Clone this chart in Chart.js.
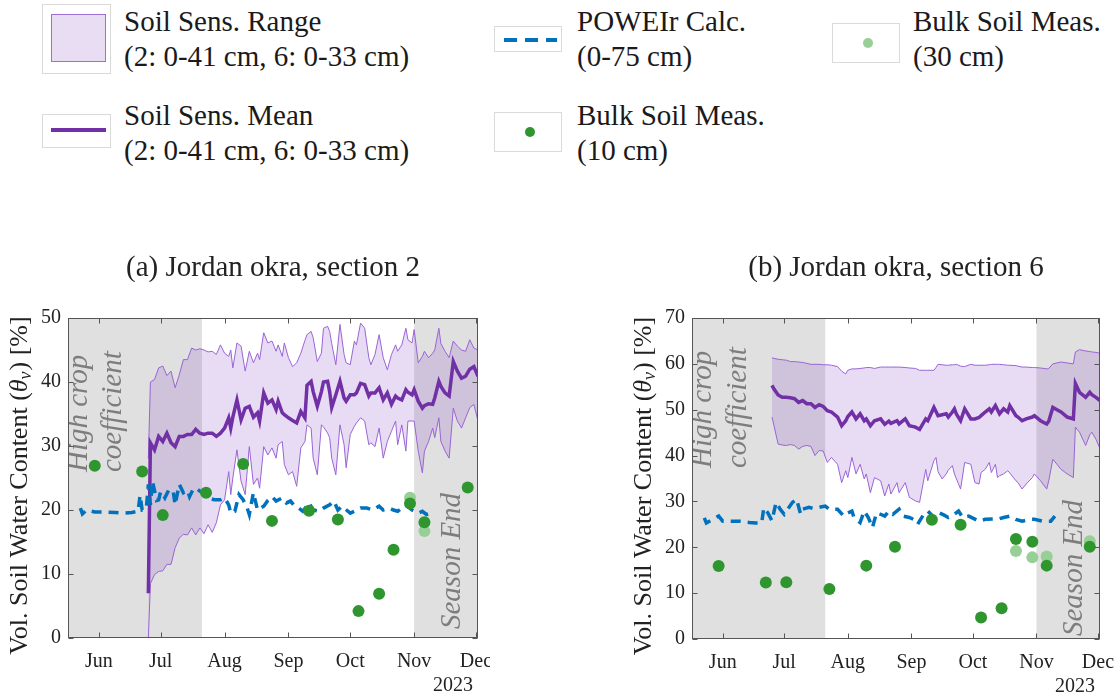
<!DOCTYPE html>
<html>
<head>
<meta charset="utf-8">
<script src="https://cdn.jsdelivr.net/npm/chart.js@4.4.1/dist/chart.umd.min.js"></script>
<style>
  html, body { margin: 0; padding: 0; background: #fff; }
  body { width: 1119px; height: 698px; position: relative; overflow: hidden;
         font-family: 'Liberation Serif', 'DejaVu Serif', serif; color: #1a1a1a; }
  .abs { position: absolute; }
  .lg-box { position: absolute; box-sizing: border-box; border: 1px solid #dadada; background: #fff; }
  .lg-text { position: absolute; font-size: 29px; line-height: 35px; white-space: nowrap; }
  #wrapA { left: 0; top: 240px; width: 490px; height: 458px; }
  #wrapB { left: 624px; top: 240px; width: 495px; height: 458px; }
</style>
</head>
<body>

<!-- legend -->
<div class="lg-box" style="left:42px; top:4px; width:69px; height:70px;"></div>
<div class="abs" style="left:51px; top:14px; width:55px; height:48px; box-sizing:border-box; background:#e9ddf4; border:1px solid #a06fd6;"></div>
<div class="lg-text" style="left:124px; top:4px;">Soil Sens. Range<br>(2: 0-41 cm, 6: 0-33 cm)</div>

<div class="lg-box" style="left:42px; top:114px; width:69px; height:34px;"></div>
<div class="abs" style="left:51px; top:128px; width:55px; height:4px; background:#7130a6;"></div>
<div class="lg-text" style="left:124px; top:98px;">Soil Sens. Mean<br>(2: 0-41 cm, 6: 0-33 cm)</div>

<div class="lg-box" style="left:494px; top:26px; width:68px; height:26px;"></div>
<div class="abs" style="left:504px; top:38px; width:13px; height:4px; background:#0072bd;"></div>
<div class="abs" style="left:525px; top:38px; width:13px; height:4px; background:#0072bd;"></div>
<div class="abs" style="left:546px; top:38px; width:11px; height:4px; background:#0072bd;"></div>
<div class="lg-text" style="left:577px; top:4px;">POWEIr Calc.<br>(0-75 cm)</div>

<div class="lg-box" style="left:494px; top:112px; width:68px; height:40px;"></div>
<div class="abs" style="left:525px; top:127px; width:10px; height:10px; border-radius:50%; background:#2f962f;"></div>
<div class="lg-text" style="left:577px; top:98px;">Bulk Soil Meas.<br>(10 cm)</div>

<div class="lg-box" style="left:832px; top:23px; width:68px; height:40px;"></div>
<div class="abs" style="left:863px; top:38px; width:10px; height:10px; border-radius:50%; background:#97cf97;"></div>
<div class="lg-text" style="left:913px; top:4px;">Bulk Soil Meas.<br>(30 cm)</div>

<div id="wrapA" class="abs"><canvas id="chartA" width="490" height="458"></canvas></div>
<div id="wrapB" class="abs"><canvas id="chartB" width="495" height="458"></canvas></div>

<script>
// ---- data (day of year 2023) ----
const monthTicks = [152, 182, 213, 244, 274, 305, 335];
const monthLabels = ['Jun', 'Jul', 'Aug', 'Sep', 'Oct', 'Nov', 'Dec'];
const yearLabel = '2023';
const shadeSpans = [[137, 202], [305, 336]];
const yTicksA = [0, 10, 20, 30, 40, 50];
const yTicksB = [0, 10, 20, 30, 40, 50, 60, 70];

// section 2 soil sensors
const sensDaysA = [176, 177, 179, 181, 183, 185, 187, 189, 191, 193, 195, 197, 199, 201, 203, 205, 207, 209, 211, 213,
  215, 216, 217, 219, 221, 223, 225, 227, 229, 230, 232, 234, 236, 238, 239, 241, 242, 244, 246, 248,
  250, 252, 253, 255, 256, 258, 260, 261, 263, 264, 265, 267, 269, 271, 272, 274, 276, 277, 279, 281,
  283, 284, 286, 288, 290, 292, 294, 296, 297, 299, 301, 302, 304, 305, 307, 309, 310, 312, 314, 315,
  317, 318, 320, 322, 324, 326, 328, 330, 332, 334, 336];
const sensUpperA = [28, 40, 40.4, 42.2, 42.5, 41.0, 41.7, 39.1, 41.1, 43.5, 43.5, 45.3, 45.0, 45.2, 45.0, 44.7, 44.8, 44.3, 45.8, 44.5,
  44.0, 45.0, 42.2, 46.1, 45.6, 41.7, 44.8, 43.0, 44.5, 43.5, 47.7, 46.1, 46.4, 44.8, 45.8, 44.0, 46.1, 43.8, 42.4, 43.0,
  44.5, 46.5, 47.4, 47.9, 46.9, 43.2, 44.5, 48.4, 48.7, 47.9, 46.0, 42.7, 49.0, 44.3, 43.0, 42.7, 46.4, 45.8, 49.2, 48.4,
  43.8, 42.7, 44.3, 47.4, 43.8, 41.9, 44.3, 45.8, 44.8, 45.8, 48.4, 46.6, 46.1, 48.2, 43.0, 44.0, 44.8, 43.8, 44.5, 45.0,
  48.4, 46.0, 44.8, 43.8, 46.4, 45.6, 45.0, 44.8, 46.6, 45.3, 45.0];
const sensMeanA = [7, 30.5, 29.4, 31.5, 30.7, 32.0, 30.5, 29.9, 31.5, 31.5, 31.8, 31.8, 32.6, 32.0, 31.8, 32.0, 32.0, 31.5, 32.0, 32.8,
  34.4, 32.8, 34.5, 37.2, 34.1, 35.9, 36.2, 34.5, 35.2, 33.9, 38.3, 36.7, 37.2, 35.7, 37.0, 35.2, 34.9, 34.4, 34.0, 33.6,
  35.4, 34.4, 39.5, 40.1, 38.5, 36.2, 38.5, 40.0, 40.1, 38.5, 36.0, 38.0, 40.1, 37.5, 37.0, 38.0, 38.0, 38.3, 39.8, 39.6,
  37.8, 38.3, 38.3, 39.1, 37.2, 38.3, 36.5, 37.8, 37.5, 37.2, 38.8, 38.4, 38.0, 38.8, 37.0, 35.9, 36.3, 36.6, 36.5, 37.5,
  40.1, 39.3, 38.3, 37.8, 43.2, 41.7, 40.6, 40.9, 42.0, 42.4, 40.9];
const sensLowerA = [0, 8.5, 9.9, 10.4, 10.5, 11.5, 11.5, 14.1, 15.6, 16.2, 16.1, 17.2, 16.1, 17.2, 16.3, 17.7, 16.5, 18.0, 20.8, 21.6,
  26.0, 22.4, 25.0, 29.4, 24.5, 22.4, 29.9, 24.0, 25.0, 23.4, 29.9, 28.6, 29.7, 28.1, 30.2, 30.7, 27.1, 25.5, 26.0, 23.7,
  29.7, 30.7, 33.3, 32.8, 28.1, 25.5, 33.3, 33.0, 32.0, 31.3, 28.1, 25.5, 33.3, 30.2, 26.6, 31.8, 33.1, 33.6, 34.4, 33.9,
  30.2, 30.5, 29.9, 32.8, 28.1, 30.7, 32.3, 33.9, 30.2, 33.3, 29.2, 33.9, 33.9, 33.9, 29.2, 25.8, 29.2, 30.7, 32.8, 31.3,
  34.4, 30.7, 29.2, 28.1, 35.9, 33.9, 32.8, 34.4, 36.0, 36.5, 33.9];

// section 2 POWEIr calculation
const powDaysA = [143, 144, 146, 150, 155, 160, 164, 168, 171, 172, 173, 175, 176, 177, 178, 180, 181, 182, 184, 186,
  188, 189, 191, 193, 195, 196, 198, 200, 202, 205, 208, 211, 213, 215, 216, 218, 220, 222, 224, 225,
  227, 229, 232, 234, 236, 238, 241, 243, 245, 247, 249, 251, 254, 256, 259, 261, 264, 266, 268, 270,
  274, 276, 279, 282, 285, 288, 290, 293, 295, 297, 299, 301, 304, 307, 309, 311, 313, 315];
const powA = [20.3, 19.4, 20.0, 19.7, 19.7, 19.6, 19.5, 19.6, 19.8, 22.3, 20.0, 20.2, 24.0, 20.8, 24.5, 21.5, 21.6, 22.9, 21.9, 23.2,
  23.0, 20.8, 24.0, 22.7, 23.1, 22.1, 23.4, 23.2, 22.7, 21.9, 21.6, 21.6, 21.9, 20.8, 19.5, 19.8, 22.4, 21.6, 20.3, 19.3,
  22.7, 20.0, 20.6, 21.5, 22.1, 21.4, 21.9, 21.1, 21.4, 20.6, 20.3, 19.8, 21.1, 20.0, 19.8, 20.3, 20.8, 21.4, 20.0, 20.6,
  19.5, 19.8, 20.3, 20.3, 20.0, 20.6, 20.0, 20.3, 20.0, 19.8, 20.3, 20.8, 20.0, 19.5, 19.8, 19.3, 19.5, 19.6];

// section 6 soil sensors
const sensDaysB = [176, 177, 179, 181, 183, 185, 187, 189, 191, 193, 195, 197, 199, 201, 203, 205, 208, 210, 212, 213,
  215, 217, 219, 221, 222, 224, 226, 229, 231, 233, 234, 237, 238, 241, 243, 246, 248, 251, 252, 255,
  256, 257, 259, 261, 262, 264, 265, 266, 268, 270, 273, 275, 277, 278, 280, 282, 283, 285, 286, 287,
  289, 291, 292, 295, 296, 298, 300, 303, 304, 307, 310, 311, 313, 315, 317, 320, 323, 324, 326, 329,
  331, 332, 334, 336];
const sensUpperB = [61.3, 61.2, 61.0, 60.9, 60.8, 60.5, 60.5, 60.4, 60.3, 60.1, 59.9, 59.9, 59.9, 59.8, 59.8, 59.7, 59.4, 58.4, 57.8, 58.6,
  58.9, 58.9, 59.0, 59.1, 59.2, 59.2, 59.0, 59.3, 59.3, 59.3, 59.3, 59.3, 59.3, 59.2, 59.1, 59.0, 58.6, 58.6, 58.6, 58.6,
  59.2, 59.9, 59.8, 59.7, 59.7, 59.8, 59.8, 59.9, 59.5, 59.4, 59.9, 59.7, 59.7, 59.7, 59.7, 59.8, 59.9, 59.9, 59.9, 59.9,
  59.8, 59.7, 59.7, 59.6, 59.5, 59.3, 59.3, 59.2, 59.2, 59.1, 58.9, 59.0, 60.0, 60.2, 60.4, 60.2, 60.0, 62.6, 63.1, 62.8,
  62.7, 62.6, 62.5, 62.3];
const sensMeanB = [55.3, 54.5, 53.2, 52.7, 52.7, 52.6, 52.4, 51.6, 52.0, 51.3, 51.3, 50.5, 51.1, 50.7, 49.8, 49.5, 48.4, 46.5, 47.6, 48.5,
  49.5, 48.0, 49.1, 47.6, 48.0, 46.5, 47.6, 48.0, 46.8, 47.5, 47.0, 47.6, 46.9, 48.0, 46.5, 46.2, 45.7, 48.0, 47.6, 50.5,
  49.6, 48.7, 48.9, 49.1, 48.4, 49.5, 50.2, 49.0, 47.6, 50.2, 48.0, 48.0, 48.3, 48.7, 49.5, 50.2, 49.5, 50.9, 50.0, 49.1,
  50.2, 49.5, 50.9, 48.7, 48.4, 47.6, 48.0, 48.4, 48.7, 47.6, 46.9, 47.5, 50.5, 50.0, 49.5, 48.4, 48.0, 55.7, 53.8, 52.7,
  53.8, 53.3, 52.7, 52.0];
const sensLowerB = [48.4, 46.5, 42.5, 42.3, 42.2, 42.4, 42.2, 41.4, 42.0, 42.2, 42.0, 40.0, 41.1, 41.0, 38.5, 39.6, 38.1, 34.1, 36.7, 35.2,
  39.6, 36.0, 38.1, 34.9, 36.0, 31.9, 35.2, 34.5, 31.2, 33.8, 31.6, 34.1, 31.9, 34.1, 30.9, 30.1, 29.8, 37.0, 34.5, 38.9,
  39.6, 36.5, 34.9, 36.0, 36.8, 37.8, 36.0, 34.9, 32.7, 38.5, 38.1, 34.1, 33.8, 36.3, 37.0, 38.5, 36.3, 38.1, 35.2, 35.6,
  36.0, 36.7, 36.2, 34.5, 34.1, 32.7, 33.8, 35.2, 36.0, 34.5, 32.7, 34.5, 39.2, 38.1, 37.0, 36.0, 35.2, 46.2, 45.1, 42.2,
  44.5, 45.1, 43.6, 41.5];

// section 6 POWEIr calculation
const powDaysB = [143, 144, 146, 150, 152, 155, 160, 165, 168, 171, 172, 174, 176, 178, 180, 182, 184, 186, 188, 190,
  191, 194, 196, 198, 202, 204, 208, 211, 213, 215, 216, 219, 221, 223, 225, 227, 229, 231, 233, 235,
  238, 240, 243, 245, 247, 250, 252, 255, 257, 260, 262, 265, 267, 269, 272, 277, 280, 284, 286, 289,
  292, 295, 298, 302, 304, 308, 312, 314];
const powB = [26.4, 25.3, 25.8, 26.8, 25.7, 25.7, 25.7, 25.4, 25.3, 25.3, 28.6, 27.5, 25.8, 29.8, 28.3, 27.2, 28.5, 29.8, 30.5, 27.2,
  28.3, 28.7, 28.5, 28.6, 29.0, 28.3, 28.3, 26.8, 27.5, 27.9, 26.5, 25.4, 27.9, 26.5, 24.3, 27.5, 27.2, 26.8, 27.9, 27.2,
  28.3, 26.8, 26.5, 26.1, 25.0, 27.2, 27.9, 26.5, 27.6, 27.0, 26.5, 27.2, 27.9, 26.5, 26.8, 25.7, 26.1, 26.2, 26.1, 26.5,
  26.8, 26.1, 25.7, 26.1, 26.1, 25.7, 25.7, 26.8];

// bulk soil measurements
const bulkDays = [150, 173, 183, 204, 222, 236, 254, 268, 278, 288, 295, 303, 310, 331];
const bulk10A = [26.9, 26.0, 19.2, 22.7, 27.2, 18.3, 19.9, 18.5, 4.2, 6.9, 13.8, 21.0, 18.1, 23.5];
const bulk10B = [15.9, 12.3, 12.4, 10.9, 16.0, 20.1, 26.0, 24.9, 4.7, 6.7, 21.8, 21.2, 16.0, 20.1];
const bulk30DaysA = [303, 310];
const bulk30A = [21.9, 16.7];
const bulk30DaysB = [295, 303, 310, 331];
const bulk30B = [19.2, 17.8, 18.0, 21.3];

const noteHigh = ['High crop', 'coefficient'];
const noteEnd = 'Season End';

// ---- styles ----
const SERIF = "'Liberation Serif', 'DejaVu Serif', serif";
const SHADE = '#e0e0e0';
const BAND = 'rgba(140, 80, 200, 0.2)';
const EDGE = '#9a64d6';
const MEAN = '#7130a6';
const BLUE = '#0072bd';
const GREEN = '#2f962f';
const LIGHT = '#97cf97';
const INK = '#222';

const pts = (xs, ys) => xs.map((d, i) => ({ x: d, y: ys[i] }));

function rotText(ctx, text, x, y) {
    ctx.save();
    ctx.translate(x, y);
    ctx.rotate(-Math.PI / 2);
    ctx.fillText(text, 0, 0);
    ctx.restore();
}

// y label with italic theta and subscript v
function drawYLabel(ctx, cx, cy) {
    const parts = [
        { t: 'Vol. Soil Water Content (', f: `26px ${SERIF}`, dy: 0 },
        { t: 'θ', f: `italic 26px ${SERIF}`, dy: 0 },
        { t: 'v', f: `italic 18px ${SERIF}`, dy: 6 },
        { t: ') [%]', f: `26px ${SERIF}`, dy: 0 }
    ];
    let total = 0;
    parts.forEach(p => { ctx.font = p.f; p.w = ctx.measureText(p.t).width; total += p.w; });
    ctx.save();
    ctx.translate(cx, cy);
    ctx.rotate(-Math.PI / 2);
    ctx.fillStyle = INK;
    ctx.textAlign = 'left';
    ctx.textBaseline = 'middle';
    let x = -total / 2;
    parts.forEach(p => { ctx.font = p.f; ctx.fillText(p.t, x, p.dy); x += p.w + (p.t === 'v' ? 1 : 0); });
    ctx.restore();
}

const decor = {
    id: 'decor',
    beforeDatasetsDraw(chart, args, o) {
        const { ctx, chartArea: a } = chart;
        const xs = chart.scales.x;
        ctx.save();
        ctx.beginPath();
        ctx.rect(a.left, a.top, a.right - a.left, a.bottom - a.top);
        ctx.clip();
        ctx.fillStyle = SHADE;
        shadeSpans.forEach(([s, e]) => {
            const x0 = xs.getPixelForValue(s), x1 = xs.getPixelForValue(e);
            ctx.fillRect(x0, a.top, x1 - x0, a.bottom - a.top);
        });
        // notes in the shaded periods
        ctx.fillStyle = '#7d7d7d';
        ctx.font = `italic 29px ${SERIF}`;
        ctx.textAlign = 'left';
        ctx.textBaseline = 'alphabetic';
        rotText(ctx, noteHigh[0], a.left + o.hx1, a.top + o.hy);
        rotText(ctx, noteHigh[1], a.left + o.hx2, a.top + o.hy);
        rotText(ctx, noteEnd, a.right - o.ex, a.bottom - o.ey);
        ctx.restore();
    },
    afterDraw(chart, args, o) {
        const { ctx, chartArea: a } = chart;
        const xs = chart.scales.x, ys = chart.scales.y;
        ctx.save();
        // box + inward ticks
        ctx.strokeStyle = '#555';
        ctx.lineWidth = 1;
        const L = Math.round(a.left) + 0.5, R = Math.round(a.right) - 0.5;
        const T = Math.round(a.top) + 0.5, B = Math.round(a.bottom) - 0.5;
        ctx.strokeRect(L, T, R - L, B - T);
        ctx.beginPath();
        monthTicks.forEach(v => {
            const px = Math.round(xs.getPixelForValue(v)) + 0.5;
            ctx.moveTo(px, B); ctx.lineTo(px, B - 5);
            ctx.moveTo(px, T); ctx.lineTo(px, T + 5);
        });
        o.yTicks.forEach(v => {
            const py = Math.round(ys.getPixelForValue(v)) + 0.5;
            ctx.moveTo(L, py); ctx.lineTo(L + 5, py);
            ctx.moveTo(R, py); ctx.lineTo(R - 5, py);
        });
        ctx.stroke();
        // title
        ctx.fillStyle = INK;
        ctx.font = `29px ${SERIF}`;
        ctx.textAlign = 'center';
        ctx.textBaseline = 'middle';
        ctx.fillText(o.title, (a.left + a.right) / 2, a.top - 50);
        // year under the time axis
        ctx.font = `20px ${SERIF}`;
        ctx.textAlign = 'right';
        ctx.fillText(yearLabel, a.right - 5, a.bottom + 48);
        ctx.restore();
        drawYLabel(ctx, a.left - 48, (a.top + a.bottom) / 2 + 8);
    }
};

function buildChart(id, o) {
    return new Chart(document.getElementById(id), {
        type: 'line',
        data: {
            datasets: [
                { label: 'Soil Sens. Range upper', data: pts(o.days, o.upper), borderColor: EDGE, borderWidth: 1,
                  pointRadius: 0, fill: false, order: 5 },
                { label: 'Soil Sens. Range', data: pts(o.days, o.lower), borderColor: EDGE, borderWidth: 1,
                  pointRadius: 0, fill: '-1', backgroundColor: BAND, order: 5 },
                { label: 'Soil Sens. Mean', data: pts(o.days, o.mean), borderColor: MEAN, borderWidth: 3.5,
                  pointRadius: 0, fill: false, order: 3 },
                { label: 'POWEIr Calc.', data: pts(o.powDays, o.pow), borderColor: BLUE, borderWidth: 3.5,
                  borderDash: [10, 7], pointRadius: 0, fill: false, order: 2 },
                { label: 'Bulk Soil Meas. (30 cm)', data: pts(o.b30Days, o.b30), showLine: false,
                  pointRadius: 6, pointBackgroundColor: LIGHT, pointBorderWidth: 0, order: 1 },
                { label: 'Bulk Soil Meas. (10 cm)', data: pts(bulkDays, o.b10), showLine: false,
                  pointRadius: 6, pointBackgroundColor: GREEN, pointBorderWidth: 0, order: 0 }
            ]
        },
        options: {
            responsive: false,
            animation: false,
            events: [],
            devicePixelRatio: 1,
            elements: { line: { tension: 0 } },
            layout: { padding: { top: 78, right: o.padR, left: 0, bottom: 0 } },
            scales: {
                x: {
                    type: 'linear', min: 137, max: 336,
                    afterBuildTicks: s => { s.ticks = monthTicks.map(v => ({ value: v })); },
                    afterFit: s => { s.height = o.xH; s.paddingLeft = 0; s.paddingRight = 0; },
                    ticks: { callback: v => monthLabels[monthTicks.indexOf(v)], autoSkip: false, maxRotation: 0,
                             font: { family: SERIF, size: 20 }, color: INK, padding: 12 },
                    grid: { display: false, drawTicks: false },
                    border: { display: false }
                },
                y: {
                    min: 0, max: o.ymax,
                    afterBuildTicks: s => { s.ticks = o.yTicks.map(v => ({ value: v })); },
                    afterFit: s => { s.width = 68; s.paddingTop = 0; s.paddingBottom = 0; },
                    ticks: { font: { family: SERIF, size: 20 }, color: INK, padding: 7 },
                    grid: { display: false, drawTicks: false },
                    border: { display: false }
                }
            },
            plugins: {
                legend: { display: false },
                tooltip: { enabled: false },
                decor: o.decor
            }
        },
        plugins: [decor]
    });
}

buildChart('chartA', {
    days: sensDaysA, upper: sensUpperA, mean: sensMeanA, lower: sensLowerA,
    powDays: powDaysA, pow: powA, b10: bulk10A, b30Days: bulk30DaysA, b30: bulk30A,
    ymax: 50, yTicks: yTicksA, padR: 12, xH: 60,
    decor: { title: '(a) Jordan okra, section 2', yTicks: yTicksA, hx1: 19, hx2: 53, hy: 154, ex: 18, ey: 9 }
});

buildChart('chartB', {
    days: sensDaysB, upper: sensUpperB, mean: sensMeanB, lower: sensLowerB,
    powDays: powDaysB, pow: powB, b10: bulk10B, b30Days: bulk30DaysB, b30: bulk30B,
    ymax: 70, yTicks: yTicksB, padR: 19, xH: 59,
    decor: { title: '(b) Jordan okra, section 6', yTicks: yTicksB, hx1: 19, hx2: 54, hy: 150, ex: 18, ey: 3 }
});
</script>
</body>
</html>
